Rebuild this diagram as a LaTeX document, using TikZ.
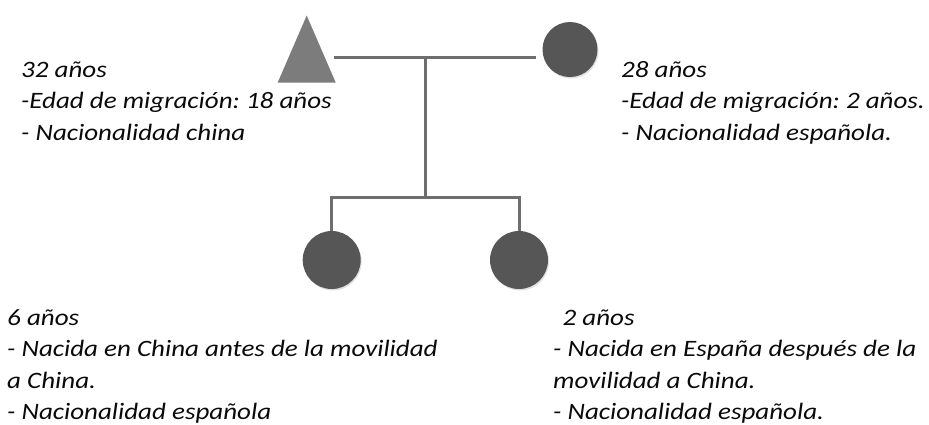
\documentclass[tikz,border=0pt]{standalone}
\usepackage{fontspec}
\setmainfont[FakeStretch=1.15]{Carlito}
\usepackage{tikz}
\usetikzlibrary{shapes}
\usetikzlibrary{shadows}
\usetikzlibrary{positioning}

\definecolor{femalegray}{HTML}{565656}
\definecolor{malegray}{HTML}{7C7C7C}
\definecolor{linegray}{HTML}{6E6E6E}
\definecolor{textgray}{HTML}{0A0A0A}

\frenchspacing
\begin{document}
\begin{tikzpicture}[x=1pt,y=-1pt]
\tikzstyle{male}=[isosceles triangle,shape border rotate=90,
isosceles triangle stretches,fill=malegray,inner sep=0pt,
minimum height=67pt,minimum width=58pt]
\tikzstyle{female}=[circle,fill=femalegray,inner sep=0pt,minimum size=55pt,
drop shadow={shadow xshift=1pt,shadow yshift=-1.5pt,opacity=0.25}]
\tikzstyle{kinship}=[draw=linegray,line width=3pt]
\tikzstyle{info}=[inner sep=0pt,align=left,text=textgray,anchor=base west,
font=\fontsize{23.5}{31.5}\selectfont\itshape]
\useasboundingbox (0,0) rectangle (929,424);
\node[male,anchor=apex] (father) at (306.7,15) {};
\node[female] (mother) at (570,49.5) {};
\node[female,minimum size=58pt] (daughter1) at (331.7,260) {};
\node[female,minimum size=58pt] (daughter2) at (519,260) {};
\coordinate (couple) at (425.7,57);
\coordinate (siblings) at (425.7,197);
\draw[kinship,shorten <=6pt,shorten >=6pt] (father.east |- couple) -- (mother.west |- couple);
\draw[kinship] (couple) -- (siblings);
\draw[kinship] (daughter1.north) |- (siblings) -| (daughter2.north);
\node[info] (fatherinfo) at (21,140) {32 años\\-Edad de migración: 18 años\\- Nacionalidad china};
\node[info] (motherinfo) at (621,140) {28 años\\-Edad de migración: 2 años.\\- Nacionalidad española.};
\node[info] (daughter1info) at (7,419.5) {6 años\\- Nacida en China antes de la movilidad\\a China.\\- Nacionalidad española};
\node[info] (daughter2info) at (553,419.5) {\hspace*{0.4em}2 años\\- Nacida en España después de la\\movilidad a China.\\- Nacionalidad española.};
\end{tikzpicture}
\end{document}
